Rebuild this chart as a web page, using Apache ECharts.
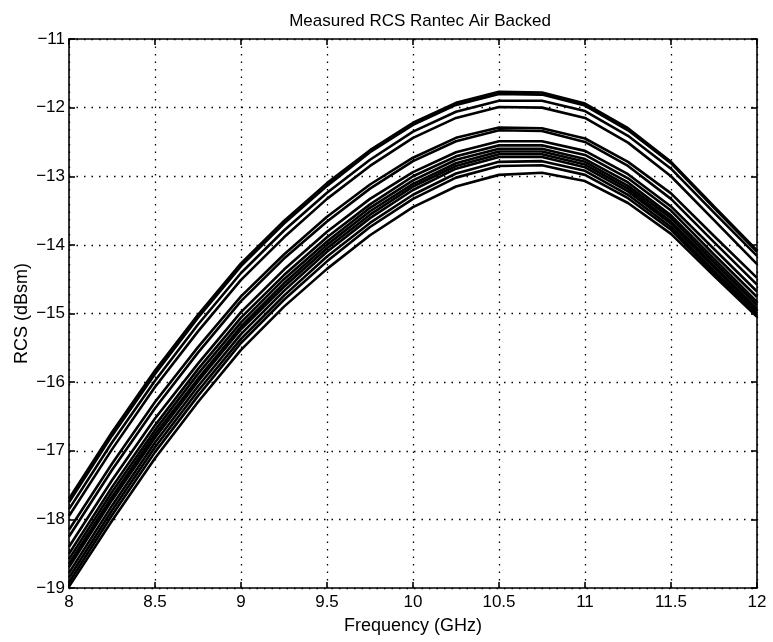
<!DOCTYPE html>
<html>
<head>
<meta charset="utf-8">
<title>Measured RCS Rantec Air Backed</title>
<script src="https://cdn.jsdelivr.net/npm/echarts@6/dist/echarts.min.js"></script>
<style>
  html, body { margin: 0; padding: 0; background: #fff; }
  #chart { width: 773px; height: 642px; }
</style>
</head>
<body>
<div id="chart"></div>
<script>
'use strict';
/* measured RCS, one curve per measurement */

var freqs = [8, 8.25, 8.5, 8.75, 9, 9.25, 9.5, 9.75, 10, 10.25, 10.5, 10.75, 11, 11.25, 11.5, 11.75, 12];

var xTicks = ['8', '8.5', '9', '9.5', '10', '10.5', '11', '11.5', '12'];
var yTicks = ['\u221219', '\u221218', '\u221217', '\u221216', '\u221215', '\u221214', '\u221213', '\u221212', '\u221211'];

var rcs01 = [-17.70, -16.73, -15.83, -15.02, -14.27, -13.65, -13.10, -12.62, -12.22, -11.93, -11.77, -11.78, -11.94, -12.30, -12.79, -13.44, -14.08];
var rcs02 = [-17.75, -16.78, -15.88, -15.06, -14.31, -13.69, -13.14, -12.65, -12.25, -11.96, -11.80, -11.81, -11.97, -12.33, -12.81, -13.46, -14.10];
var rcs03 = [-17.85, -16.88, -15.98, -15.16, -14.41, -13.79, -13.24, -12.76, -12.35, -12.06, -11.90, -11.90, -12.05, -12.41, -12.89, -13.53, -14.16];
var rcs04 = [-17.95, -16.98, -16.07, -15.26, -14.51, -13.89, -13.33, -12.85, -12.44, -12.15, -11.99, -12.00, -12.15, -12.51, -13.00, -13.64, -14.28];
var rcs05 = [-18.15, -17.19, -16.29, -15.49, -14.75, -14.14, -13.59, -13.12, -12.73, -12.44, -12.29, -12.30, -12.45, -12.79, -13.25, -13.87, -14.48];
var rcs06 = [-18.25, -17.28, -16.38, -15.57, -14.82, -14.20, -13.66, -13.18, -12.78, -12.49, -12.33, -12.34, -12.50, -12.85, -13.33, -13.96, -14.58];
var rcs07 = [-18.40, -17.43, -16.53, -15.73, -14.98, -14.36, -13.81, -13.33, -12.94, -12.65, -12.49, -12.49, -12.63, -12.97, -13.44, -14.06, -14.68];
var rcs08 = [-18.50, -17.53, -16.63, -15.81, -15.06, -14.44, -13.89, -13.41, -13.00, -12.71, -12.55, -12.55, -12.69, -13.03, -13.50, -14.14, -14.76];
var rcs09 = [-18.58, -17.60, -16.70, -15.88, -15.13, -14.50, -13.95, -13.46, -13.06, -12.76, -12.60, -12.60, -12.75, -13.09, -13.57, -14.20, -14.83];
var rcs10 = [-18.65, -17.67, -16.76, -15.95, -15.19, -14.56, -14.00, -13.51, -13.11, -12.81, -12.64, -12.64, -12.79, -13.14, -13.61, -14.25, -14.88];
var rcs11 = [-18.70, -17.72, -16.81, -15.99, -15.23, -14.61, -14.05, -13.56, -13.15, -12.85, -12.68, -12.68, -12.83, -13.18, -13.66, -14.30, -14.93];
var rcs12 = [-18.78, -17.80, -16.88, -16.06, -15.30, -14.67, -14.10, -13.61, -13.20, -12.89, -12.72, -12.72, -12.87, -13.22, -13.69, -14.33, -14.96];
var rcs13 = [-18.85, -17.87, -16.95, -16.13, -15.37, -14.74, -14.17, -13.68, -13.27, -12.96, -12.79, -12.78, -12.92, -13.27, -13.74, -14.38, -15.00];
var rcs14 = [-18.92, -17.94, -17.02, -16.20, -15.43, -14.80, -14.24, -13.74, -13.33, -13.02, -12.85, -12.84, -12.98, -13.32, -13.78, -14.41, -15.03];
var rcs15 = [-18.98, -18.02, -17.11, -16.29, -15.53, -14.90, -14.35, -13.86, -13.45, -13.15, -12.98, -12.95, -13.07, -13.39, -13.84, -14.45, -15.05];

var curves = [rcs01, rcs02, rcs03, rcs04, rcs05, rcs06, rcs07, rcs08, rcs09, rcs10, rcs11, rcs12, rcs13, rcs14, rcs15];

var FONT = 'Liberation Sans';

var seriesList = [];
for (var i = 0; i < curves.length; i++) {
  var pts = [];
  for (var j = 0; j < freqs.length; j++) {
    pts.push([freqs[j], curves[i][j]]);
  }
  seriesList.push({
    name: 'run ' + (i + 1),
    type: 'line',
    data: pts,
    showSymbol: false,
    symbol: 'none',
    clip: true,
    lineStyle: { color: '#000', width: 2.6 },
    z: 3
  });
}

function tickText(list, min, step) {
  return function(v) {
    var k = Math.round((v - min) / step);
    return list[k] !== undefined ? list[k] : '';
  };
}

var axisLineStyle = { lineStyle: { color: '#000', width: 1.6 } };
var tickStyle = { show: true, inside: true, length: 6, lineStyle: { color: '#000', width: 1.6 } };

var rcsChart = echarts.init(document.getElementById('chart'), null, { renderer: 'canvas' });
var rcsOpt = {
  animation: false,
  backgroundColor: '#fff',
  title: {
    text: 'Measured RCS Rantec Air Backed',
    left: 415,
    top: 8,
    textAlign: 'center',
    textStyle: { fontFamily: FONT, fontSize: 17, fontWeight: 'normal', color: '#000' }
  },
  grid: { left: 69, right: 16, top: 39, bottom: 54, containLabel: false },
  xAxis: [{
    type: 'value',
    min: 8,
    max: 12,
    interval: 0.5,
    position: 'bottom',
    name: 'Frequency (GHz)',
    nameLocation: 'middle',
    nameGap: 29,
    nameMoveOverlap: false,
    nameTextStyle: { fontFamily: FONT, fontSize: 18, color: '#000' },
    axisLine: axisLineStyle,
    axisTick: tickStyle,
    axisLabel: { fontFamily: FONT, fontSize: 17, color: '#000', margin: 6, formatter: tickText(xTicks, 8, 0.5) },
    splitLine: { show: true, lineStyle: { color: '#000', width: 1.3, type: [1.5, 6] } }
  }, {
    type: 'value',
    min: 8,
    max: 12,
    interval: 0.5,
    position: 'top',
    axisLine: axisLineStyle,
    axisTick: tickStyle,
    axisLabel: { show: false },
    splitLine: { show: false }
  }],
  yAxis: [{
    type: 'value',
    min: -19,
    max: -11,
    interval: 1,
    position: 'left',
    name: 'RCS (dBsm)',
    nameLocation: 'middle',
    nameGap: 38,
    nameMoveOverlap: false,
    nameTextStyle: { fontFamily: FONT, fontSize: 18, color: '#000' },
    axisLine: axisLineStyle,
    axisTick: tickStyle,
    axisLabel: { fontFamily: FONT, fontSize: 17, color: '#000', margin: 4, formatter: tickText(yTicks, -19, 1) },
    splitLine: { show: true, lineStyle: { color: '#000', width: 1.3, type: [1.5, 6] } }
  }, {
    type: 'value',
    min: -19,
    max: -11,
    interval: 1,
    position: 'right',
    axisLine: axisLineStyle,
    axisTick: tickStyle,
    axisLabel: { show: false },
    splitLine: { show: false }
  }],
  series: seriesList
};
rcsChart.setOption(rcsOpt);
</script>
</body>
</html>
